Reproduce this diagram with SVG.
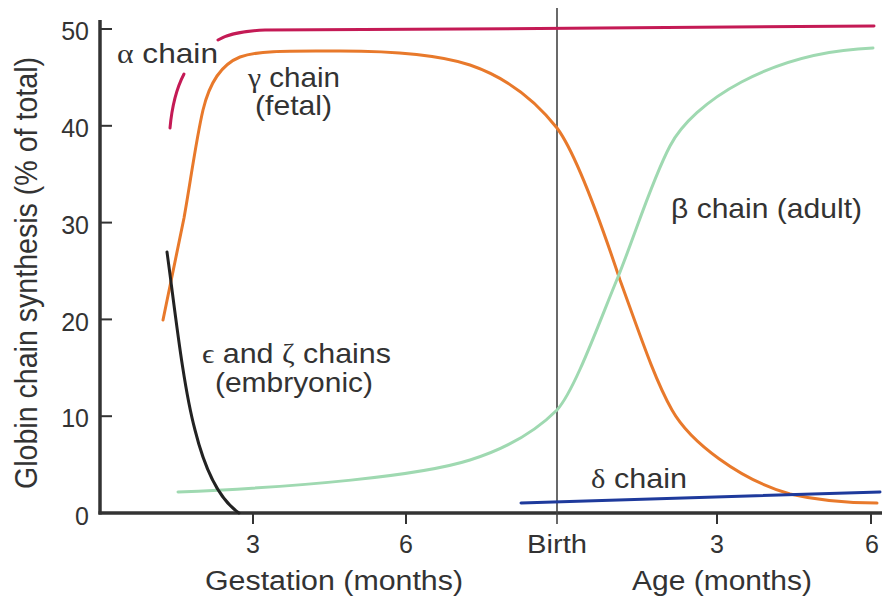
<svg xmlns="http://www.w3.org/2000/svg" width="882" height="599" viewBox="0 0 882 599">
<style>
text{font-family:"Liberation Sans",Arial,Helvetica,sans-serif;fill:#333}
.gr{font-family:"Liberation Serif","DejaVu Serif",serif}
.tick{font-size:25px}
.lab{font-size:28px}
.ax{font-size:27px}
.curve{fill:none;stroke-width:3;stroke-linecap:round;stroke-linejoin:round}
.axis{fill:none;stroke:#333;stroke-width:3.5}
.tk{fill:none;stroke:#333;stroke-width:2}
</style>
<rect width="882" height="599" fill="#fff"/>
<g id="axes">
<line class="axis" x1="100" y1="20" x2="100" y2="514.5"/>
<line class="axis" x1="98.5" y1="513" x2="882" y2="513"/>
<g class="tk">
<line x1="100" y1="29" x2="112" y2="29"/>
<line x1="100" y1="125.8" x2="112" y2="125.8"/>
<line x1="100" y1="222.6" x2="112" y2="222.6"/>
<line x1="100" y1="319.4" x2="112" y2="319.4"/>
<line x1="100" y1="416.2" x2="112" y2="416.2"/>
<line x1="253" y1="513" x2="253" y2="524"/>
<line x1="406" y1="513" x2="406" y2="524"/>
<line x1="717" y1="513" x2="717" y2="524"/>
<line x1="871" y1="513" x2="871" y2="524"/>
</g>
<line x1="557" y1="8" x2="557" y2="524" stroke="#444" stroke-width="1.6"/>
<g class="tick" text-anchor="end">
<text x="89" y="40">50</text>
<text x="89" y="137">40</text>
<text x="89" y="234">30</text>
<text x="89" y="331">20</text>
<text x="89" y="427">10</text>
<text x="89" y="525">0</text>
</g>
<g class="tick" text-anchor="middle">
<text x="253" y="553">3</text>
<text x="406" y="553">6</text>
<text x="717" y="553">3</text>
<text x="872" y="553">6</text>
</g>
<text class="tick" x="527" y="553" textLength="60" lengthAdjust="spacingAndGlyphs">Birth</text>
<text class="ax" x="205" y="590" textLength="258" lengthAdjust="spacingAndGlyphs">Gestation (months)</text>
<text class="ax" x="632" y="590" textLength="180" lengthAdjust="spacingAndGlyphs">Age (months)</text>
<text class="ax" transform="translate(37,489) rotate(-90) scale(1,1.15)" x="0" y="0" textLength="432" lengthAdjust="spacingAndGlyphs">Globin chain synthesis (% of total)</text>
</g>
<g id="curves">
<g id="alpha">
<path class="curve" stroke="#C41A55" d="M170,128 Q173,95 184,74"/>
<path class="curve" stroke="#C41A55" d="M218,40 C230,33 245,31 265,30 C400,29 700,28 874,26"/>
</g>
<path id="gamma" class="curve" stroke="#E8792B" d="M163,320 L184,218 C190,185 196,140 203,110 C209,85 220,65 240,57 C260,50 290,51 340,51 C400,51 440,55 470,65 C505,77 535,100 557,128 C575,152 600,220 620,280 C640,335 655,380 672,410 C690,442 740,480 790,494 C820,501 850,503 877,503"/>
<path id="beta" class="curve" stroke="#9FD9B1" d="M178,492 C300,487 420,476 470,460 C505,449 535,432 557,410 C575,390 600,320 618,277 C635,235 652,180 670,146 C693,102 770,52 873,48"/>
<path id="epsilon" class="curve" stroke="#222" d="M167,252 C175,310 183,385 195,430 C205,470 220,500 239,513"/>
<path id="delta" class="curve" stroke="#1E3A9C" d="M521,503 L880,492"/>
</g>
<g id="labels">
<text class="lab" x="117" y="63" textLength="101" lengthAdjust="spacingAndGlyphs"><tspan class="gr">α</tspan> chain</text>
<text class="lab" x="248" y="87" textLength="92" lengthAdjust="spacingAndGlyphs"><tspan class="gr">γ</tspan> chain</text>
<text class="lab" x="255" y="115" textLength="77" lengthAdjust="spacingAndGlyphs">(fetal)</text>
<text class="lab" x="671" y="218" textLength="191" lengthAdjust="spacingAndGlyphs">β chain (adult)</text>
<text class="lab" x="202" y="363" textLength="189" lengthAdjust="spacingAndGlyphs"><tspan class="gr">ϵ</tspan> and <tspan class="gr">ζ</tspan> chains</text>
<text class="lab" x="215" y="392" textLength="158" lengthAdjust="spacingAndGlyphs">(embryonic)</text>
<text class="lab" x="591" y="488" textLength="96" lengthAdjust="spacingAndGlyphs"><tspan class="gr">δ</tspan> chain</text>
</g>
</svg>
